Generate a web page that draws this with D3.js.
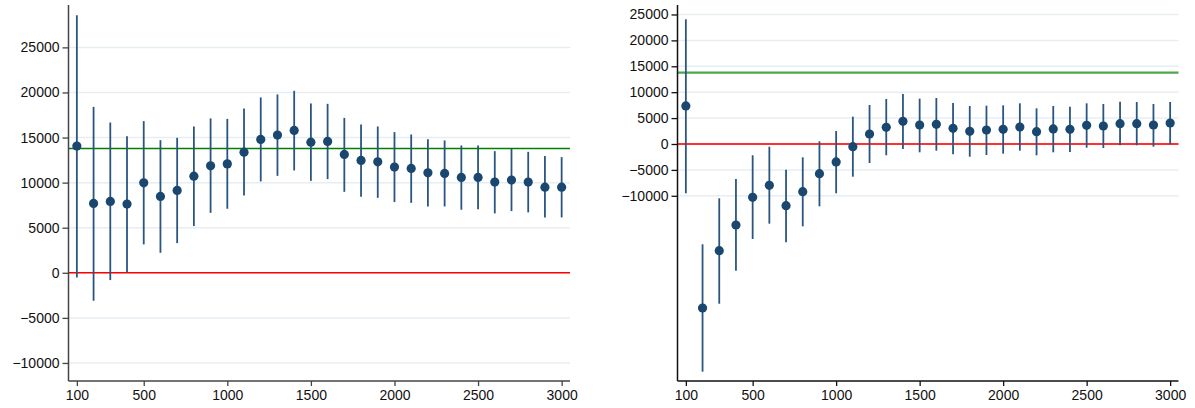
<!DOCTYPE html>
<html>
<head>
<meta charset="utf-8">
<script src="https://cdn.jsdelivr.net/npm/d3@7"></script>
<style>
  html, body { margin: 0; padding: 0; background: #fff; }
  svg { display: block; }
  text { font-family: "Liberation Sans", Arial, Helvetica, sans-serif; }
</style>
</head>
<body>
<svg id="chart" width="1195" height="408"></svg>
<script>
// Bandwidths on the x axis
const bandwidths = [100, 200, 300, 400, 500, 600, 700, 800, 900, 1000,
  1100, 1200, 1300, 1400, 1500, 1600, 1700, 1800, 1900, 2000,
  2100, 2200, 2300, 2400, 2500, 2600, 2700, 2800, 2900, 3000];

// Left panel: point estimates and 95% confidence bounds
const leftEst = [14050, 7690, 7920, 7620, 9980, 8470, 9140, 10720, 11860, 12080,
  13380, 14790, 15270, 15790, 14490, 14570, 13130, 12460, 12310, 11720,
  11570, 11090, 11020, 10580, 10580, 10060, 10280, 10060, 9500, 9500];
const leftLo = [-510, -3100, -810, 40, 3150, 2220, 3290, 5180, 6650, 7100,
  8580, 10130, 10750, 11350, 10200, 10390, 8980, 8430, 8310, 7840,
  7760, 7360, 7360, 6990, 7060, 6590, 6840, 6700, 6140, 6140];
const leftHi = [28570, 18400, 16670, 15150, 16820, 14710, 14970, 16230, 17120, 17070,
  18230, 19450, 19780, 20180, 18780, 18740, 17180, 16450, 16230, 15600,
  15340, 14820, 14680, 14120, 14120, 13490, 13750, 13420, 12940, 12830];

// Right panel: point estimates and 95% confidence bounds
const rightEst = [7340, -31660, -20600, -15640, -10290, -7970, -11910, -9210, -5730, -3470,
  -520, 1930, 3220, 4380, 3670, 3800, 3030, 2450, 2700, 2830,
  3280, 2380, 2900, 2830, 3600, 3470, 3920, 3920, 3670, 4050];
const rightLo = [-9520, -43950, -30830, -24450, -18340, -15380, -18980, -15890, -12030, -9520,
  -6310, -3670, -2180, -970, -1610, -1290, -1990, -2450, -2120, -1870,
  -1290, -2180, -1610, -1540, -710, -770, -260, -260, -520, -60];
const rightHi = [24070, -19360, -10480, -6760, -2180, -520, -4960, -2570, 520, 2510,
  5270, 7530, 8690, 9650, 8750, 8880, 7920, 7340, 7400, 7460,
  7850, 6880, 7340, 7210, 7850, 7720, 8170, 8110, 7720, 8110];

// Axis ticks and reference lines
const xTicks = [100, 500, 1000, 1500, 2000, 2500, 3000];
const yTicks = [-10000, -5000, 0, 5000, 10000, 15000, 20000, 25000];
const zeroLine = 0;
const benchmark = 13780;

const svg = d3.select("#chart");

function panel(cfg) {
  const g = svg.append("g");
  const x = d3.scaleLinear().domain([50, 3050]).range([cfg.left, cfg.right]);
  const y = d3.scaleLinear().domain(cfg.yDomain).range([381, 5]);

  // horizontal grid
  g.selectAll("line.grid").data(yTicks).join("line")
    .attr("class", "grid")
    .attr("x1", cfg.left).attr("x2", cfg.right)
    .attr("y1", d => y(d)).attr("y2", d => y(d))
    .attr("stroke", "#e6eef2").attr("stroke-width", 1.5);

  // reference lines
  g.append("line")
    .attr("x1", cfg.left).attr("x2", cfg.right)
    .attr("y1", y(zeroLine)).attr("y2", y(zeroLine))
    .attr("stroke", cfg.red).attr("stroke-width", cfg.refWidth);
  g.append("line")
    .attr("x1", cfg.left).attr("x2", cfg.right)
    .attr("y1", y(benchmark)).attr("y2", y(benchmark))
    .attr("stroke", cfg.green).attr("stroke-width", cfg.refWidth);

  const rows = bandwidths.map((b, i) => ({ b, est: cfg.est[i], lo: cfg.lo[i], hi: cfg.hi[i] }));

  // confidence intervals
  g.selectAll("line.ci").data(rows).join("line")
    .attr("class", "ci")
    .attr("x1", d => x(d.b)).attr("x2", d => x(d.b))
    .attr("y1", d => y(d.lo)).attr("y2", d => y(d.hi))
    .attr("stroke", "#2a5580").attr("stroke-width", 1.8);

  // point estimates
  g.selectAll("circle.pt").data(rows).join("circle")
    .attr("class", "pt")
    .attr("cx", d => x(d.b)).attr("cy", d => y(d.est))
    .attr("r", 4.6)
    .attr("fill", "#1a476f");

  // y axis
  const yAxis = d3.axisLeft(y).tickValues(yTicks).tickSize(6).tickPadding(3)
    .tickFormat(d => d < 0 ? "\u2212" + Math.abs(d) : String(d));
  const ya = g.append("g").attr("transform", `translate(${cfg.left},0)`).call(yAxis);
  ya.select(".domain").attr("d", `M0,5V381`).attr("stroke", cfg.axisColor).attr("stroke-width", 1.5);
  ya.selectAll(".tick line").attr("stroke", cfg.axisColor).attr("stroke-width", 1.3);
  ya.selectAll(".tick text").attr("font-size", 14).attr("fill", "#111");

  // x axis
  const xAxis = d3.axisBottom(x).tickValues(xTicks).tickSize(5).tickPadding(4)
    .tickFormat(d3.format("d"));
  const xa = g.append("g").attr("transform", "translate(0,381)").call(xAxis);
  xa.select(".domain").attr("d", `M${cfg.left},0H${cfg.right}`).attr("stroke", cfg.axisColor).attr("stroke-width", 1.5);
  xa.selectAll(".tick line").attr("stroke", cfg.axisColor).attr("stroke-width", 1.3);
  xa.selectAll(".tick text").attr("font-size", 14).attr("fill", "#111");
}

panel({
  left: 68.5, right: 570,
  yDomain: [-12000, 29700],
  est: leftEst, lo: leftLo, hi: leftHi,
  red: "#ff0000", green: "#008000", refWidth: 1.5,
  axisColor: "#444"
});

panel({
  left: 677.5, right: 1178.5,
  yDomain: [-45750, 26830],
  est: rightEst, lo: rightLo, hi: rightHi,
  red: "#ff3030", green: "#4ca64c", refWidth: 2.2,
  axisColor: "#111"
});
</script>
</body>
</html>
